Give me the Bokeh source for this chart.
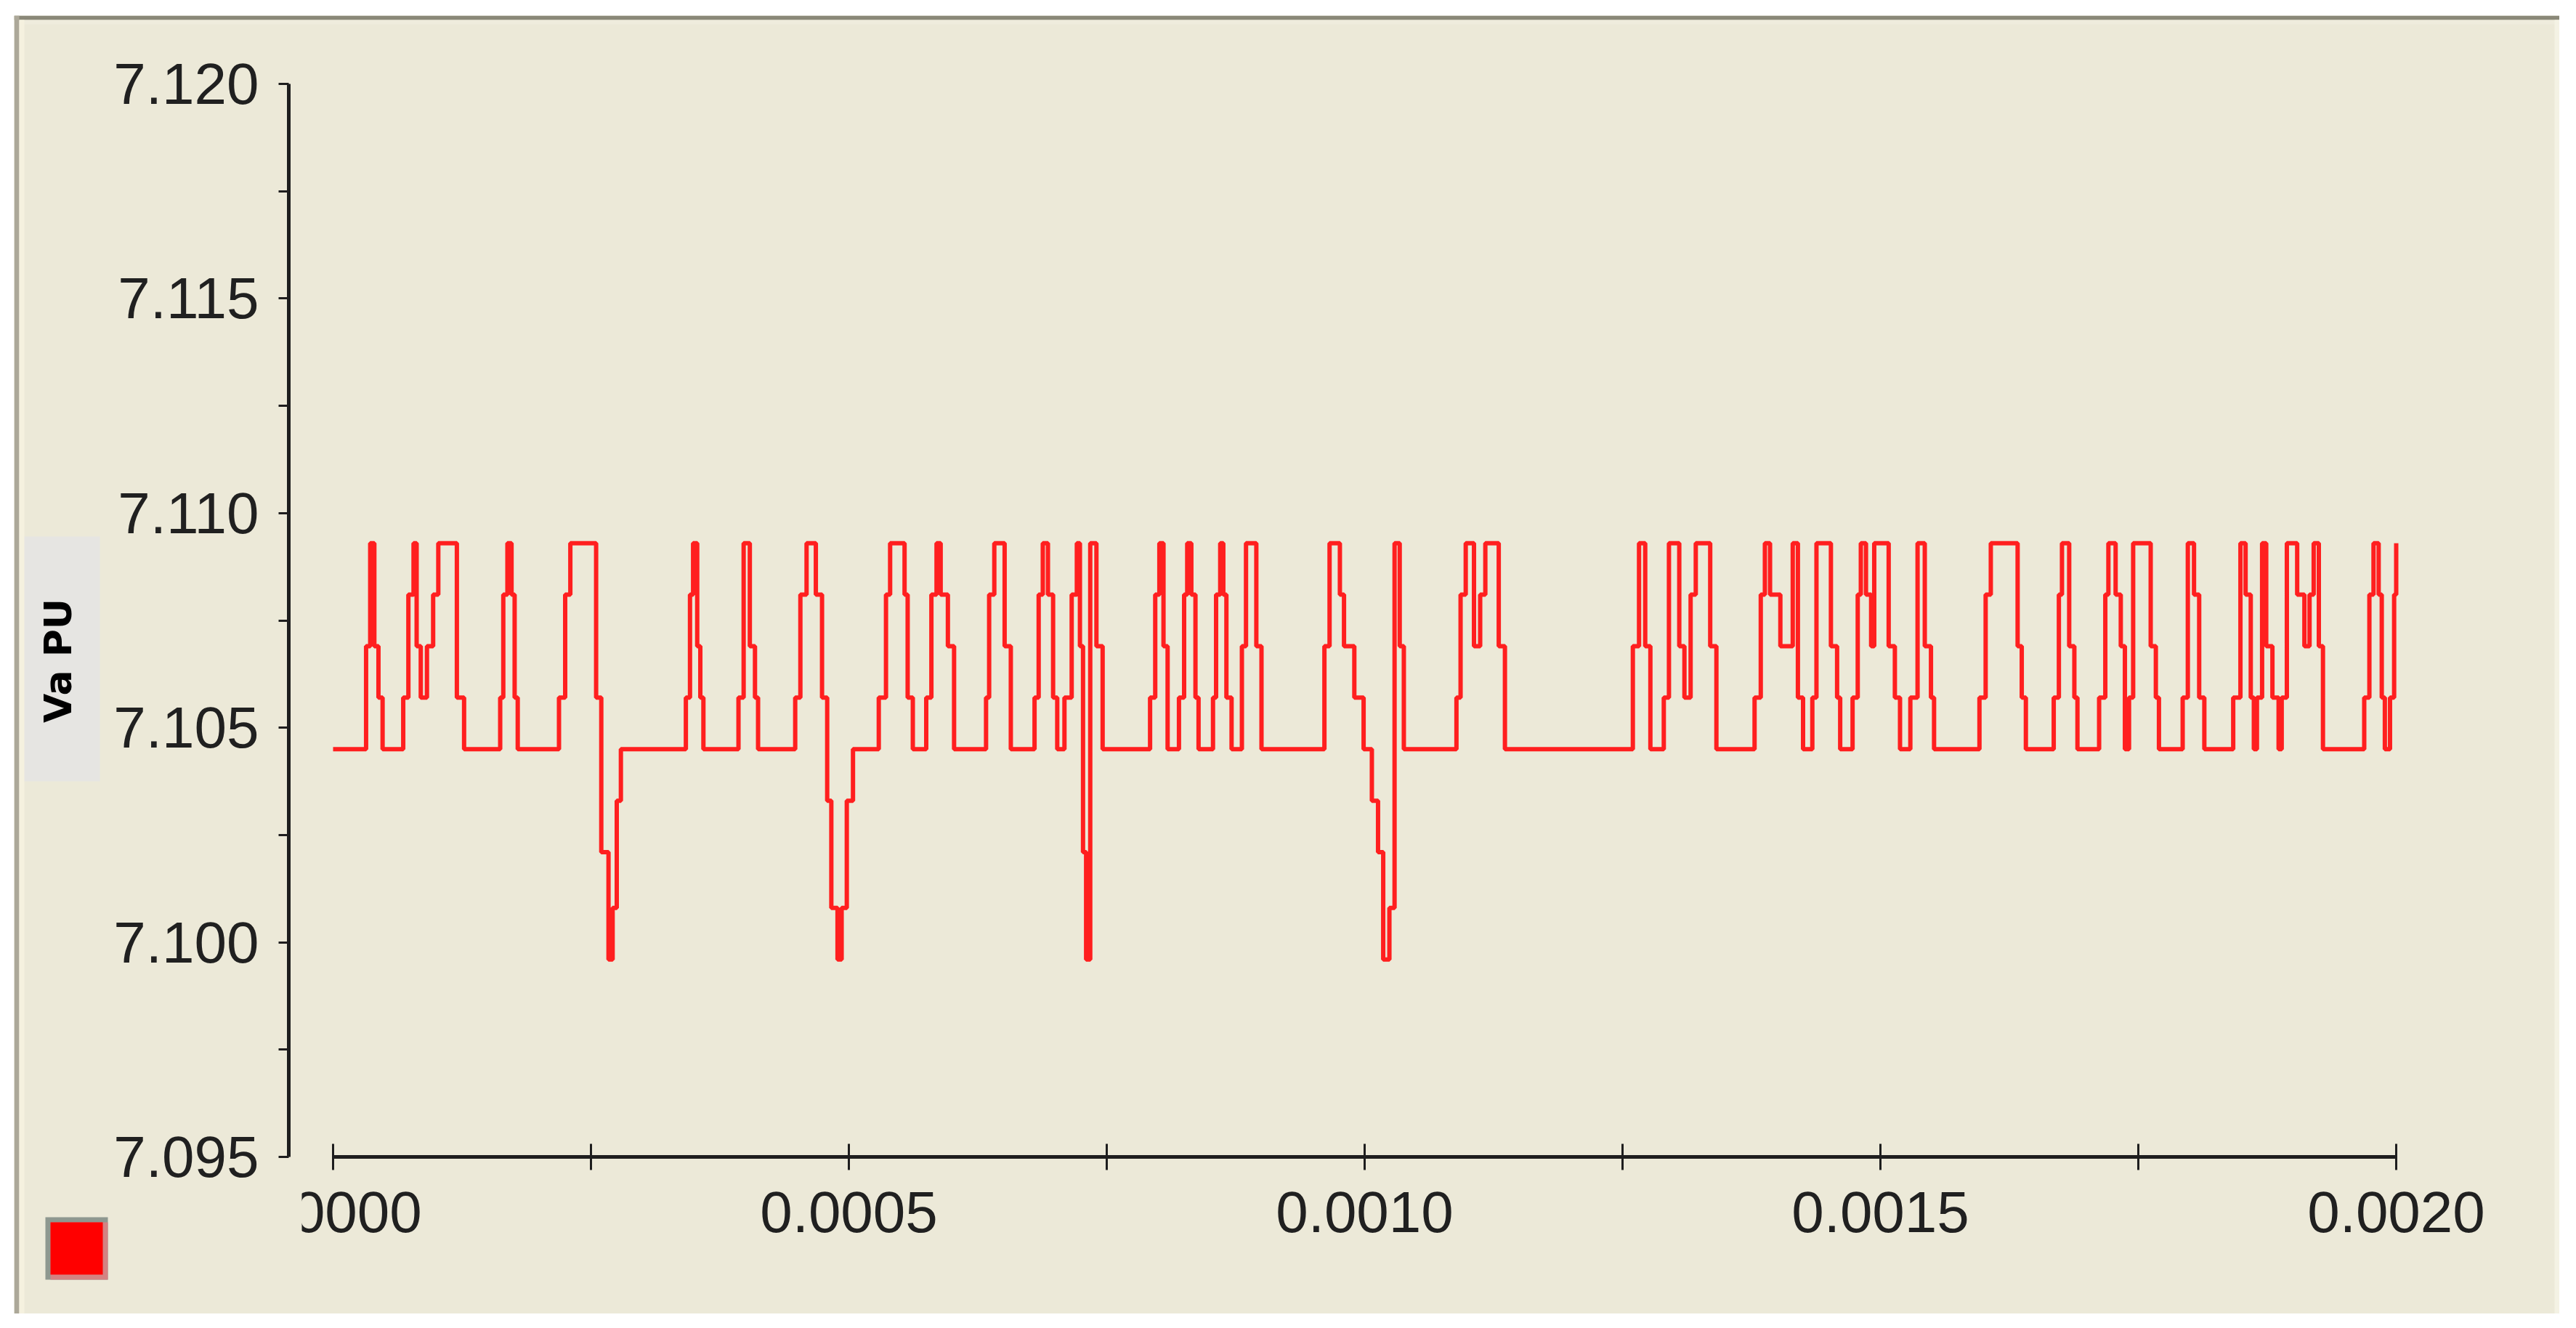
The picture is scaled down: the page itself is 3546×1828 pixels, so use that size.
from bokeh.plotting import figure
from bokeh.models import (Range1d, FixedTicker, PrintfTickFormatter, BoxAnnotation,
                          Label, Spacer)
from bokeh.layouts import column, row
from bokeh.embed import file_html
from bokeh.resources import INLINE

# ---------------- data ----------------
# change points of the stepped signal (time in microseconds) and the value held from that time on
T_US = [
    0, 32, 36, 40, 44, 48,
    68, 73, 78, 81, 85, 91, 97, 102, 120, 127,
    162, 165, 169, 173, 176, 179,
    219, 225, 230, 255, 260, 267, 271, 275, 279,
    342, 346, 349, 353, 356, 359,
    393, 398, 404, 409, 412,
    448, 453, 459, 468, 474, 479, 483, 489, 493, 498, 504,
    529, 536, 540, 554, 557, 562,
    575, 580, 585, 589, 596, 602,
    633, 636, 641, 651, 657,
    680, 684, 688, 693, 698, 702,
    709, 716, 721, 724, 727, 730, 734, 740, 746,
    792, 797, 801, 805, 809,
    820, 825, 828, 832, 836, 839,
    853, 856, 860, 863, 866, 871,
    881, 885, 895, 900,
    961, 966, 976, 980, 990, 999, 1007, 1013, 1018, 1024, 1029, 1034, 1038,
    1089, 1093, 1098, 1106, 1112, 1117, 1130, 1136,
    1260, 1266, 1272, 1277,
    1290, 1295, 1305, 1310, 1316, 1321, 1335, 1341,
    1378, 1384, 1388, 1393, 1403, 1415, 1420, 1425,
    1434, 1438, 1452, 1458, 1461,
    1473, 1478, 1481, 1486, 1491, 1494, 1508, 1514, 1519,
    1529, 1536, 1543, 1549, 1552,
    1596, 1602, 1607, 1633, 1637, 1641,
    1668, 1673, 1676, 1683, 1688, 1691,
    1712, 1718, 1721, 1728, 1733, 1737, 1741, 1745, 1762, 1767, 1770,
    1793, 1798, 1804, 1809, 1814,
    1842, 1849, 1854, 1859, 1862, 1865, 1870, 1874, 1880, 1886,
    1889, 1894, 1904, 1911, 1916, 1920, 1925, 1929,
    1969, 1974, 1978, 1983, 1986, 1989, 1994, 1998, 2000,
]
VA_PU = [
    7.1045, 7.1069, 7.1093, 7.1069, 7.1057, 7.1045,
    7.1057, 7.1081, 7.1093, 7.1069, 7.1057, 7.1069, 7.1081, 7.1093, 7.1057, 7.1045,
    7.1057, 7.1081, 7.1093, 7.1081, 7.1057, 7.1045,
    7.1057, 7.1081, 7.1093, 7.1057, 7.1021, 7.0996, 7.1008, 7.1033, 7.1045,
    7.1057, 7.1081, 7.1093, 7.1069, 7.1057, 7.1045,
    7.1057, 7.1093, 7.1069, 7.1057, 7.1045,
    7.1057, 7.1081, 7.1093, 7.1081, 7.1057, 7.1033, 7.1008, 7.0996, 7.1008, 7.1033, 7.1045,
    7.1057, 7.1081, 7.1093, 7.1081, 7.1057, 7.1045,
    7.1057, 7.1081, 7.1093, 7.1081, 7.1069, 7.1045,
    7.1057, 7.1081, 7.1093, 7.1069, 7.1045,
    7.1057, 7.1081, 7.1093, 7.1081, 7.1057, 7.1045,
    7.1057, 7.1081, 7.1093, 7.1069, 7.1021, 7.0996, 7.1093, 7.1069, 7.1045,
    7.1057, 7.1081, 7.1093, 7.1069, 7.1045,
    7.1057, 7.1081, 7.1093, 7.1081, 7.1057, 7.1045,
    7.1057, 7.1081, 7.1093, 7.1081, 7.1057, 7.1045,
    7.1069, 7.1093, 7.1069, 7.1045,
    7.1069, 7.1093, 7.1081, 7.1069, 7.1057, 7.1045, 7.1033, 7.1021, 7.0996, 7.1008, 7.1093, 7.1069, 7.1045,
    7.1057, 7.1081, 7.1093, 7.1069, 7.1081, 7.1093, 7.1069, 7.1045,
    7.1069, 7.1093, 7.1069, 7.1045,
    7.1057, 7.1093, 7.1069, 7.1057, 7.1081, 7.1093, 7.1069, 7.1045,
    7.1057, 7.1081, 7.1093, 7.1081, 7.1069, 7.1093, 7.1057, 7.1045,
    7.1057, 7.1093, 7.1069, 7.1057, 7.1045,
    7.1057, 7.1081, 7.1093, 7.1081, 7.1069, 7.1093, 7.1069, 7.1057, 7.1045,
    7.1057, 7.1093, 7.1069, 7.1057, 7.1045,
    7.1057, 7.1081, 7.1093, 7.1069, 7.1057, 7.1045,
    7.1057, 7.1081, 7.1093, 7.1069, 7.1057, 7.1045,
    7.1057, 7.1081, 7.1093, 7.1081, 7.1069, 7.1045, 7.1057, 7.1093, 7.1069, 7.1057, 7.1045,
    7.1057, 7.1093, 7.1081, 7.1057, 7.1045,
    7.1057, 7.1093, 7.1081, 7.1057, 7.1045, 7.1057, 7.1093, 7.1069, 7.1057, 7.1045,
    7.1057, 7.1093, 7.1081, 7.1069, 7.1081, 7.1093, 7.1069, 7.1045,
    7.1057, 7.1081, 7.1093, 7.1081, 7.1057, 7.1045, 7.1057, 7.1081, 7.1093,
]
assert len(T_US) == len(VA_PU)

X_TICKS = [0.0, 0.0005, 0.0010, 0.0015, 0.0020]
X_MINOR = [0.00025, 0.00075, 0.00125, 0.00175]
X_LABELS = ["0.0000", "0.0005", "0.0010", "0.0015", "0.0020"]
Y_TICKS = [7.095, 7.100, 7.105, 7.110, 7.115, 7.120]
Y_MINOR = [7.0975, 7.1025, 7.1075, 7.1125, 7.1175]
Y_LABELS = ["7.095", "7.100", "7.105", "7.110", "7.115", "7.120"]
Y_TITLE = "Va PU"

t_s = [v * 1e-6 for v in T_US]

# ---------------- layout (screenshot pixels) ----------------
OX, OY = 19, 21          # panel / canvas origin on the page
W, H = 3504, 1787        # canvas size (the frame fills all of it)
YAX_PX = 397             # page x of the y axis line
X0PX, X1PX = 458, 3298   # page x of t = 0 and t = 0.002
YB_PX, YT_PX = 1592, 115 # page y of 7.095 and 7.120
PX_PER_S = (X1PX - X0PX) / 0.002
Y0, Y1 = Y_TICKS[0], Y_TICKS[-1]
PX_PER_V = (YB_PX - YT_PX) / (Y1 - Y0)


def xd(px):
    return (px - X0PX) / PX_PER_S


def yd(py):
    return Y0 + (YB_PX - py) / PX_PER_V


BG = "#ECE9D8"
INK = "#1e1e1e"
LABEL_INK = "#202020"

p = figure(width=W, height=H,
           x_range=Range1d(xd(OX), xd(OX + W)), y_range=Range1d(yd(OY + H), yd(OY)),
           output_backend="svg", toolbar_location=None,
           min_border=0, min_border_left=0, min_border_right=0,
           min_border_top=0, min_border_bottom=0)
p.background_fill_color = BG
p.border_fill_color = BG
p.outline_line_color = None
p.grid.visible = False

xa = p.xaxis[0]
xa.fixed_location = Y0
xa.ticker = FixedTicker(ticks=X_TICKS, minor_ticks=X_MINOR)
xa.formatter = PrintfTickFormatter(format="%.4f")
xa.major_label_overrides = dict(zip(X_TICKS, X_LABELS))
xa.bounds = (X_TICKS[0], X_TICKS[-1])
xa.axis_line_color = INK
xa.axis_line_width = 5
xa.major_tick_line_color = INK
xa.minor_tick_line_color = INK
xa.major_tick_line_width = 3
xa.minor_tick_line_width = 3
xa.major_tick_in = 18
xa.major_tick_out = 18
xa.minor_tick_in = 18
xa.minor_tick_out = 18
xa.major_label_standoff = 30
xa.major_label_text_font = "Liberation Sans"
xa.major_label_text_font_size = "80px"
xa.major_label_text_color = LABEL_INK

ya = p.yaxis[0]
ya.fixed_location = xd(YAX_PX)
ya.ticker = FixedTicker(ticks=Y_TICKS, minor_ticks=Y_MINOR)
ya.formatter = PrintfTickFormatter(format="%.3f")
ya.major_label_overrides = dict(zip(Y_TICKS, Y_LABELS))
ya.bounds = (Y0, Y1)
ya.axis_line_color = INK
ya.axis_line_width = 5
ya.major_tick_line_color = INK
ya.minor_tick_line_color = INK
ya.major_tick_line_width = 3
ya.minor_tick_line_width = 3
ya.major_tick_in = 0
ya.major_tick_out = 14
ya.minor_tick_in = 0
ya.minor_tick_out = 14
ya.major_label_standoff = 27
ya.major_label_text_font = "Liberation Sans"
ya.major_label_text_font_size = "80px"
ya.major_label_text_color = LABEL_INK


def panel_rect(L, T, R, B, color, level="overlay"):
    """A flat rectangle given in page pixels, placed through the plot's own scales."""
    p.add_layout(BoxAnnotation(left=xd(L), right=xd(R), top=yd(T), bottom=yd(B),
                               fill_color=color, fill_alpha=1.0, line_color=None,
                               level=level))


# grey box behind the axis title
panel_rect(28, 738, 137, 1075, "#E6E5E2", level="underlay")
# etched panel edges
panel_rect(OX, OY, OX + W, OY + 6, "#8a8878")
panel_rect(OX + 7, OY + 6, OX + W, OY + 12, "#efecdd")
panel_rect(OX, OY, OX + 7, OY + H, "#aca899")
panel_rect(OX + 7, OY + 6, OX + 14, OY + H, "#f5f1df")
panel_rect(OX + W - 7, OY + 6, OX + W, OY + H, "#f4f2e4")
# clipped first x label
panel_rect(318, 1628, 415, 1726, BG)
# red series swatch with its bevel
panel_rect(62, 1675, 148, 1761, "#8e9890")
panel_rect(69, 1682, 148, 1761, "#d48282")
panel_rect(69, 1682, 141, 1754, "#ff0000")

p.add_layout(Label(x=xd(79), y=yd(909), text=Y_TITLE, angle=90, angle_units="deg",
                   text_align="center", text_baseline="middle",
                   text_font="DejaVu Sans", text_font_style="bold",
                   text_font_size="52px", text_color="#000000"))

p.step(t_s, VA_PU, mode="after", line_color="#ff1f1f", line_width=6)

layout = column(Spacer(width=10, height=OY),
                row(Spacer(width=OX, height=10), p))
open("out.html", "w").write(file_html(layout, INLINE))
